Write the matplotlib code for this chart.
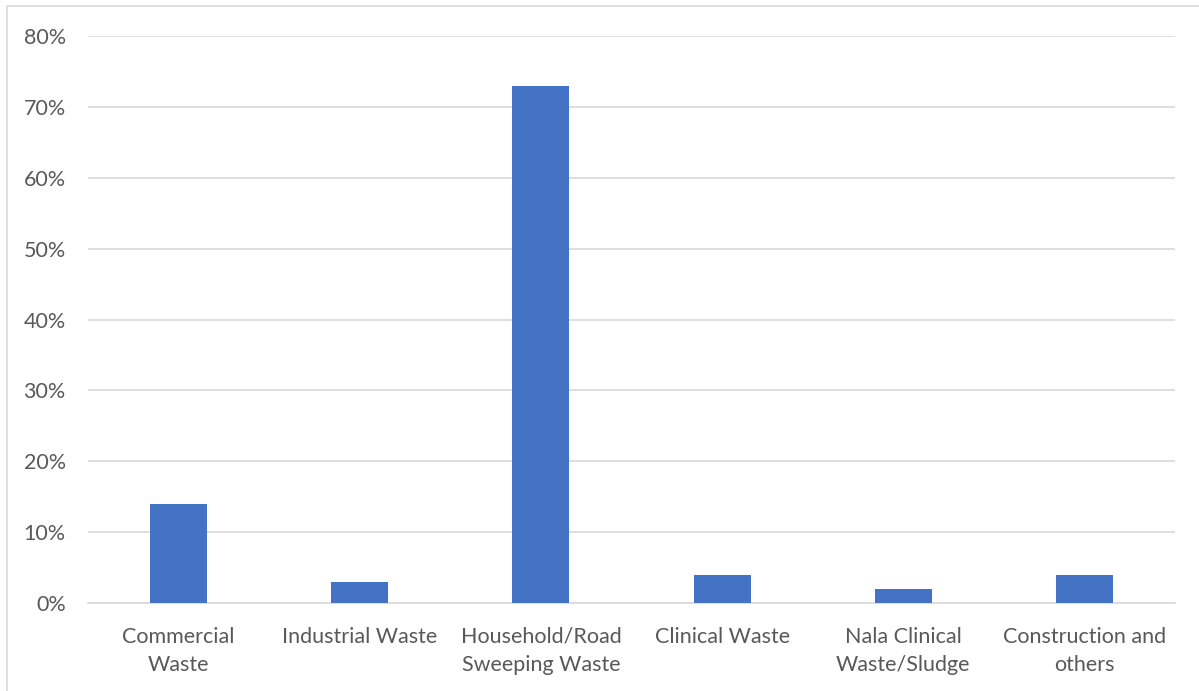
import matplotlib.pyplot as plt
from matplotlib.patches import Rectangle
from matplotlib.ticker import FuncFormatter

categories = ["Commercial\nWaste", "Industrial Waste", "Household/Road\nSweeping Waste",
              "Clinical Waste", "Nala Clinical\nWaste/Sludge", "Construction and\nothers"]
shares = [14, 3, 73, 4, 2, 4]

plt.rcParams['font.family'] = ['Lato', 'DejaVu Sans']

fig = plt.figure(figsize=(11.99, 6.91), dpi=100, facecolor='white')
ax = fig.add_axes([88/1199, 1 - 603/691, (1175 - 88)/1199, (603 - 36)/691])

x = range(len(categories))
ax.bar(x, shares, width=0.315, color='#4472C4', zorder=3)

ax.set_xlim(-0.5, len(categories) - 0.5)
ax.set_ylim(0, 80)
ax.set_yticks(range(0, 81, 10))
ax.yaxis.set_major_formatter(FuncFormatter(lambda v, p: f"{int(v)}%"))
ax.set_xticks(list(x))
ax.set_xticklabels(categories, linespacing=1.5)

ax.grid(axis='y', color='#D9D9D9', linewidth=1.2, zorder=0)
for s in ['top', 'right', 'left']:
    ax.spines[s].set_visible(False)
ax.spines['bottom'].set_color('#D9D9D9')
ax.spines['bottom'].set_linewidth(1.2)
ax.tick_params(axis='both', length=0, labelsize=15.5, labelcolor='#595959')
ax.tick_params(axis='y', pad=16)
ax.tick_params(axis='x', pad=17)

fig.patches.append(Rectangle((7/1199, -0.1), 1.2, 1 - 6/691 + 0.1, transform=fig.transFigure,
                             fill=False, edgecolor='#D9D9D9', linewidth=1.2))

fig.savefig('out.png', dpi=100, facecolor='white')
